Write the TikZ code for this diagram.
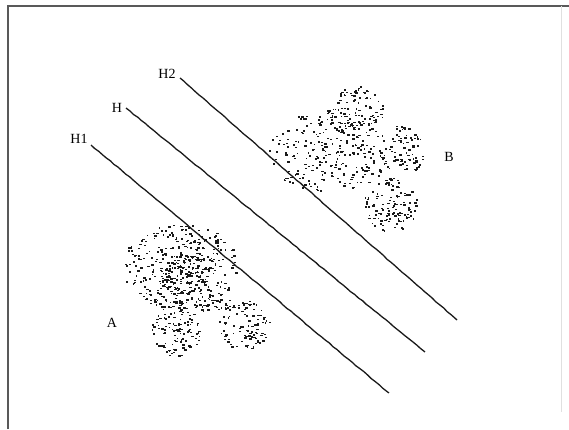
\documentclass[tikz,border=0pt]{standalone}
\usepackage{fontspec}
\setmainfont{Liberation Serif}
\usetikzlibrary{decorations.pathmorphing}

% scatter N small dots over an ellipse centred at (cx,cy) with radii rx, ry
\newcommand{\stipple}[5]{%
  \foreach \k in {1,...,#5}{%
    \pgfmathsetmacro\ang{360*rnd}%
    \pgfmathsetmacro\rad{sqrt(rnd)}%
    \pgfmathsetmacro\len{1.3+1.6*rnd}%
    \fill[dotcol] ({#1+#3*\rad*cos(\ang)},{#2+#4*\rad*sin(\ang)}) rectangle +(\len,1.5);
  }%
}

\tikzset{
  frameline/.style={draw=black!65, line width=1.4pt},
  hyper/.style={draw=black!90, line width=1.3pt,
    decorate, decoration={random steps, segment length=5pt, amplitude=0.35pt}},
  lbl/.style={font=\fontsize{14}{14}\selectfont, inner sep=0pt, text=black},
  dotcol/.style={black!90}
}

\begin{document}
\begin{tikzpicture}[x=1pt,y=-1pt]
  \useasboundingbox (0,0) rectangle (569,429);
  \pgfmathsetseed{2718}

  % frame
  \draw[frameline] (8,429) -- (8,6) -- (569,6);
  \draw[draw=black!12, line width=0.8pt] (561,6) -- (561,412);

  % class A
  \stipple{180}{266}{58}{43}{320}
  \stipple{184}{274}{26}{20}{140}
  \stipple{176}{328}{25}{28}{115}
  \stipple{244}{325}{26}{25}{100}
  \stipple{212}{304}{20}{10}{35}

  % class B
  \stipple{328}{152}{60}{42}{250}
  \stipple{356}{112}{27}{27}{110}
  \stipple{402}{150}{23}{25}{85}
  \stipple{390}{204}{27}{27}{120}

  % separating lines
  \coordinate (h2s) at (180,78);  \coordinate (h2e) at (457,320);
  \coordinate (hs)  at (126,108); \coordinate (he)  at (425,352);
  \coordinate (h1s) at (91,145);  \coordinate (h1e) at (389,393);
  \draw[hyper] (h2s) -- (h2e);
  \draw[hyper] (hs) -- (he);
  \draw[hyper] (h1s) -- (h1e);

  % labels
  \node[lbl] (lh2) at (167,74) {H2};
  \node[lbl] (lh)  at (117,108) {H};
  \node[lbl] (lh1) at (79,139) {H1};
  \node[lbl] (la)  at (112,323) {A};
  \node[lbl] (lb)  at (449,157) {B};
\end{tikzpicture}
\end{document}
